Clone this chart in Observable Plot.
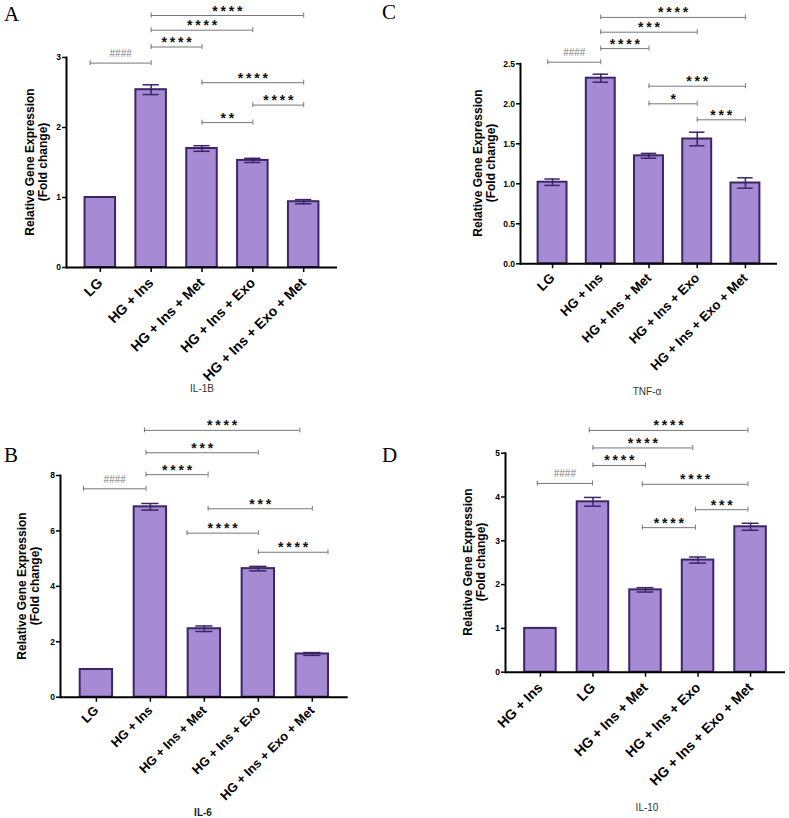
<!DOCTYPE html>
<html><head><meta charset="utf-8">
<script src="https://cdn.jsdelivr.net/npm/d3@7"></script>
<script src="https://cdn.jsdelivr.net/npm/@observablehq/plot@0.6"></script>
<style>
body{margin:0;background:#fff}
#fig{position:relative;width:789px;height:818px;background:#fff;overflow:hidden;font-family:"Liberation Sans",Arial,sans-serif}
#fig svg{position:absolute}
.letter{position:absolute;font-family:"Liberation Serif","Times New Roman",serif;font-size:21px;line-height:1;color:#000}
.cap{position:absolute;font-size:10px;line-height:1;color:#333;transform:translate(-50%,-50%);white-space:nowrap}
.ylab{position:absolute;font-size:12px;font-weight:bold;line-height:13px;color:#000;text-align:center;white-space:pre;transform:translate(-50%,-50%) rotate(-90deg)}
</style></head><body><div id="fig"></div>
<script>
// ---- categories ----
const groupsStd = ["LG", "HG + Ins", "HG + Ins + Met", "HG + Ins + Exo", "HG + Ins + Exo + Met"];
const groupsD = ["HG + Ins", "LG", "HG + Ins + Met", "HG + Ins + Exo", "HG + Ins + Exo + Met"];

// ---- A: IL-1B ----
const il1bMean = [1.00, 2.54, 1.70, 1.53, 0.94];
const il1bSD   = [0, 0.07, 0.04, 0.03, 0.03];
const il1bFrom  = [-0.2, 1, 1, 1, 2, 3, 2];
const il1bTo    = [1, 2, 3, 4, 4, 4, 3];
const il1bLevel = [2.92, 3.15, 3.39, 3.60, 2.64, 2.32, 2.07];
const il1bLabel = ["####", "****", "****", "****", "****", "****", "**"];
const il1bTicks = [0, 1, 2, 3];

// ---- C: TNF-alpha ----
const tnfMean = [1.02, 2.32, 1.35, 1.56, 1.01];
const tnfSD   = [0.04, 0.05, 0.03, 0.085, 0.065];
const tnfFrom  = [-0.1, 1, 1, 1, 2, 2, 3];
const tnfTo    = [1, 2, 3, 4, 4, 3, 4];
const tnfLevel = [2.52, 2.69, 2.895, 3.08, 2.22, 2.00, 1.80];
const tnfLabel = ["####", "****", "***", "****", "***", "*", "***"];
const tnfTicks = [0, 0.5, 1.0, 1.5, 2.0, 2.5];

// ---- B: IL-6 ----
const il6Mean = [1.00, 6.87, 2.47, 4.64, 1.56];
const il6SD   = [0, 0.12, 0.10, 0.08, 0.05];
const il6From  = [-0.24, 0.92, 0.92, 0.89, 2.07, 1.68, 3];
const il6To    = [0.92, 2.07, 3, 3.77, 4, 3, 4.29];
const il6Level = [7.52, 8.03, 8.82, 9.63, 6.80, 5.92, 5.23];
const il6Label = ["####", "****", "***", "****", "***", "****", "****"];
const il6Ticks = [0, 2, 4, 6, 8];

// ---- D: IL-10 ----
const il10Mean = [1.00, 3.89, 1.88, 2.56, 3.32];
const il10SD   = [0, 0.10, 0.05, 0.07, 0.08];
const il10From  = [-0.06, 1, 1, 0.93, 1.94, 2.95, 1.94];
const il10To    = [0.99, 2, 2.9, 3.95, 3.95, 3.95, 2.95];
const il10Level = [4.31, 4.72, 5.12, 5.52, 4.29, 3.71, 3.30];
const il10Label = ["####", "****", "****", "****", "****", "***", "****"];
const il10Ticks = [0, 1, 2, 3, 4, 5];

const FILL = "#a68bd4", STROKE = "#3b2566", FONT = "'Liberation Sans', Arial, sans-serif";
const YLAB = "Relative Gene Expression\n(Fold change)";

function panel(o) {
  const bars = o.groups.map((g, i) => ({i, g, v: o.mean[i], e: o.sd[i]}));
  const errs = bars.filter(d => d.e > 0);
  const br = o.label.map((t, k) => ({x1: o.from[k], x2: o.to[k], y: o.level[k], t, mid: (o.from[k] + o.to[k]) / 2}));
  const ends = br.flatMap(b => [{x: b.x1, y: b.y}, {x: b.x2, y: b.y}]);
  const hw = 0.3, cw = 0.16;
  const svg = Plot.plot({
    width: o.width, height: o.height,
    marginLeft: o.ml, marginRight: o.mr, marginTop: o.mt, marginBottom: o.mb,
    x: {type: "linear", domain: [-0.665, 4.665], axis: null},
    y: {domain: [0, o.yMax], axis: null},
    style: {fontFamily: FONT, color: "#000", background: "transparent", overflow: "visible"},
    marks: [
      Plot.rectY(bars, {x1: d => d.i - hw, x2: d => d.i + hw, y: "v", fill: FILL, stroke: STROKE, strokeWidth: 2}),
      Plot.ruleX(errs, {x: "i", y1: d => d.v - d.e, y2: d => d.v + d.e, stroke: STROKE, strokeWidth: 1.5}),
      Plot.ruleY(errs, {y: d => d.v + d.e, x1: d => d.i - cw, x2: d => d.i + cw, stroke: STROKE, strokeWidth: 1.5}),
      Plot.ruleY(errs, {y: d => d.v - d.e, x1: d => d.i - cw, x2: d => d.i + cw, stroke: STROKE, strokeWidth: 1.5}),
      Plot.ruleY(br, {y: "y", x1: "x1", x2: "x2", stroke: "#777", strokeWidth: 1}),
      Plot.ruleX(ends, {x: "x", y1: "y", y2: "y", insetTop: -2.5, insetBottom: -2.5, stroke: "#777", strokeWidth: 1}),
      Plot.text(br.filter(d => d.t[0] === "*"), {x: "mid", y: "y", text: d => d.t.split("").join("\u2009"), lineAnchor: "bottom", dy: 0, fontSize: 14, fontWeight: "bold", fill: "#111"}),
      Plot.text(br.filter(d => d.t[0] === "#"), {x: "mid", y: "y", text: "t", lineAnchor: "bottom", dy: -6, fontSize: 10, fill: "#808080"}),
      Plot.axisY({ticks: o.yTicks, tickFormat: o.yFmt, tickSize: 4, tickPadding: 1.5, fontSize: 8.5, fontWeight: "bold", label: null, strokeWidth: 1.5}),
      Plot.axisX({ticks: [0, 1, 2, 3, 4], tickFormat: i => o.groups[i], tickRotate: -45, tickSize: 5, tickPadding: o.xpad, fontSize: o.xfs, fontWeight: "bold", label: null, strokeWidth: 1.5}),
      Plot.ruleY([0], {strokeWidth: 2, stroke: "#000"}),
      Plot.frame({anchor: "left", strokeWidth: 2, stroke: "#000"})
    ]
  });
  svg.style.left = o.left + "px";
  svg.style.top = o.top + "px";
  return svg;
}

const fig = document.getElementById("fig");
fig.append(panel({groups: groupsStd, mean: il1bMean, sd: il1bSD, from: il1bFrom, to: il1bTo, level: il1bLevel, label: il1bLabel,
  yMax: 3, yTicks: il1bTicks, yFmt: d3.format("d"), left: 0, top: 0, width: 394, height: 400, ml: 66, mr: 57, mt: 57, mb: 133, xfs: 14, xpad: 8}));
fig.append(panel({groups: groupsStd, mean: tnfMean, sd: tnfSD, from: tnfFrom, to: tnfTo, level: tnfLevel, label: tnfLabel,
  yMax: 2.5, yTicks: tnfTicks, yFmt: d3.format(".1f"), left: 394, top: 0, width: 395, height: 400, ml: 126, mr: 12, mt: 63.3, mb: 136.7, xfs: 13.2, xpad: 7}));
fig.append(panel({groups: groupsStd, mean: il6Mean, sd: il6SD, from: il6From, to: il6To, level: il6Level, label: il6Label,
  yMax: 8, yTicks: il6Ticks, yFmt: d3.format("d"), left: 0, top: 400, width: 394, height: 418, ml: 60, mr: 46.3, mt: 75, mb: 121.3, xfs: 12.8, xpad: 6}));
fig.append(panel({groups: groupsD, mean: il10Mean, sd: il10SD, from: il10From, to: il10To, level: il10Level, label: il10Label,
  yMax: 5, yTicks: il10Ticks, yFmt: d3.format("d"), left: 394, top: 400, width: 395, height: 418, ml: 111, mr: 4, mt: 52.7, mb: 146.3, xfs: 14, xpad: 8}));

function addText(cls, txt, x, y, extra) {
  const el = document.createElement("div");
  el.className = cls; el.textContent = txt;
  el.style.left = x + "px"; el.style.top = y + "px";
  if (extra) Object.assign(el.style, extra);
  fig.append(el);
}
addText("letter", "A", 4, 4);
addText("letter", "C", 382, 2);
addText("letter", "B", 4, 445);
addText("letter", "D", 382, 445);
addText("ylab", YLAB, 37, 162);
addText("ylab", YLAB, 485, 163);
addText("ylab", YLAB, 28.5, 586);
addText("ylab", YLAB, 474.5, 562);
addText("cap", "IL-1B", 202, 389);
addText("cap", "TNF-\u03b1", 647, 392);
addText("cap", "IL-6", 203, 813, {fontWeight: "bold", color: "#222"});
addText("cap", "IL-10", 647, 808);
</script></body></html>
